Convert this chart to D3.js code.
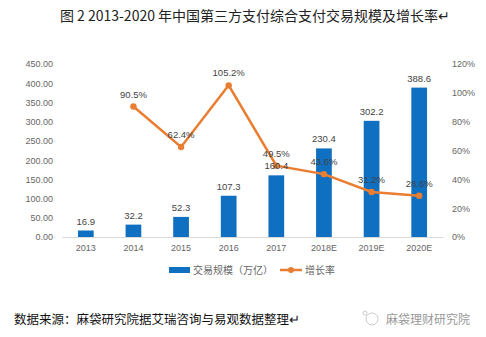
<!DOCTYPE html>
<html>
<head>
<meta charset="utf-8">
<script src="https://cdn.jsdelivr.net/npm/d3@7"></script>
<style>
  body { margin: 0; background: #fff; }
  svg { display: block; font-family: "Noto Sans CJK SC", "Liberation Sans", sans-serif; }
</style>
</head>
<body>
<svg id="chart"></svg>
<script>
const years = ["2013", "2014", "2015", "2016", "2017", "2018E", "2019E", "2020E"];
const volume = [16.9, 32.2, 52.3, 107.3, 160.4, 230.4, 302.2, 388.6];
const growth = [null, 90.5, 62.4, 105.2, 49.5, 43.6, 31.2, 28.6];
const leftTicks = [0, 50, 100, 150, 200, 250, 300, 350, 400, 450];
const rightTicks = [0, 20, 40, 60, 80, 100, 120];

const width = 486, height = 337;
const margin = { top: 64, right: 43, bottom: 100, left: 62 };
const blue = "#0f6fc1", orange = "#e97d31", grey = "#666";

const svg = d3.select("#chart").attr("width", width).attr("height", height);

const x = d3.scaleBand()
  .domain(years)
  .range([margin.left, width - margin.right])
  .paddingInner(0.67)
  .paddingOuter(0.335);

const y = d3.scaleLinear().domain([0, 450]).range([height - margin.bottom, margin.top]);
const y2 = d3.scaleLinear().domain([0, 120]).range([height - margin.bottom, margin.top]);

// title
svg.append("text")
  .attr("x", 255).attr("y", 21)
  .attr("text-anchor", "middle")
  .attr("font-size", 14)
  .attr("fill", "#222")
  .text("图 2 2013-2020 年中国第三方支付综合支付交易规模及增长率↵");

// left axis
const yAxis = d3.axisLeft(y).tickValues(leftTicks).tickFormat(d3.format(".2f")).tickSize(0).tickPadding(9);
svg.append("g")
  .attr("transform", `translate(${margin.left}, 0)`)
  .call(yAxis)
  .call(g => g.select(".domain").remove())
  .selectAll("text").attr("fill", grey).attr("font-size", 9).attr("font-family", "Liberation Sans, sans-serif");

// right axis
const y2Axis = d3.axisRight(y2).tickValues(rightTicks).tickFormat(d => d + "%").tickSize(0).tickPadding(9);
svg.append("g")
  .attr("transform", `translate(${width - margin.right}, 0)`)
  .call(y2Axis)
  .call(g => g.select(".domain").remove())
  .selectAll("text").attr("fill", grey).attr("font-size", 9).attr("font-family", "Liberation Sans, sans-serif");

// x axis
svg.append("g")
  .attr("transform", `translate(0, ${y(0)})`)
  .call(d3.axisBottom(x).tickSize(0).tickPadding(8))
  .call(g => g.select(".domain").attr("stroke", "#d9d9d9"))
  .selectAll("text").attr("fill", grey).attr("font-size", 9).attr("font-family", "Liberation Sans, sans-serif");

// bars
svg.selectAll(".bar")
  .data(years)
  .enter().append("rect")
  .attr("class", "bar")
  .attr("x", d => x(d))
  .attr("width", x.bandwidth())
  .attr("y", (d, i) => y(volume[i]))
  .attr("height", (d, i) => y(0) - y(volume[i]))
  .attr("fill", blue);

// line
const pts = years.map((d, i) => ({ year: d, v: growth[i] })).filter(d => d.v !== null);
const line = d3.line().x(d => x(d.year) + x.bandwidth() / 2).y(d => y2(d.v));
svg.append("path")
  .datum(pts)
  .attr("d", line)
  .attr("fill", "none")
  .attr("stroke", orange)
  .attr("stroke-width", 2.5);
svg.selectAll(".pt")
  .data(pts)
  .enter().append("circle")
  .attr("cx", d => x(d.year) + x.bandwidth() / 2)
  .attr("cy", d => y2(d.v))
  .attr("r", 3.2)
  .attr("fill", orange);

// bar labels
svg.selectAll(".blab")
  .data(years)
  .enter().append("text")
  .attr("x", d => x(d) + x.bandwidth() / 2)
  .attr("y", (d, i) => y(volume[i]) - 6)
  .attr("text-anchor", "middle")
  .attr("font-size", 9.5)
  .attr("font-family", "Liberation Sans, sans-serif")
  .attr("fill", "#444")
  .text((d, i) => volume[i].toFixed(1));

// line labels
svg.selectAll(".llab")
  .data(pts)
  .enter().append("text")
  .attr("x", d => x(d.year) + x.bandwidth() / 2)
  .attr("y", d => y2(d.v) - 9)
  .attr("text-anchor", "middle")
  .attr("font-size", 9.5)
  .attr("font-family", "Liberation Sans, sans-serif")
  .attr("fill", "#444")
  .text(d => d.v.toFixed(1) + "%");

// legend
const lg = svg.append("g").attr("transform", "translate(169, 270)");
lg.append("rect").attr("x", 0).attr("y", -3).attr("width", 21).attr("height", 6).attr("fill", blue);
lg.append("text").attr("x", 24).attr("y", 4).attr("font-size", 10).attr("fill", grey).text("交易规模（万亿）");
lg.append("line").attr("x1", 111).attr("x2", 133).attr("y1", 0).attr("y2", 0).attr("stroke", orange).attr("stroke-width", 2.5);
lg.append("circle").attr("cx", 122).attr("cy", 0).attr("r", 3).attr("fill", orange);
lg.append("text").attr("x", 136).attr("y", 4).attr("font-size", 10).attr("fill", grey).text("增长率");

// source
svg.append("text")
  .attr("x", 14).attr("y", 324)
  .attr("font-size", 12.5)
  .attr("fill", "#111")
  .text("数据来源：麻袋研究院据艾瑞咨询与易观数据整理↵");

// watermark
const wm = svg.append("g").attr("transform", "translate(362, 319)");
wm.append("circle").attr("cx", 10).attr("cy", 0).attr("r", 6).attr("fill", "none").attr("stroke", "#bbb").attr("stroke-width", 0.8);
wm.append("circle").attr("cx", 3).attr("cy", -6).attr("r", 2).attr("fill", "none").attr("stroke", "#bbb").attr("stroke-width", 0.8);
wm.append("text").attr("x", 24).attr("y", 4.5).attr("font-size", 12).attr("fill", "#999").text("麻袋理财研究院");
</script>
</body>
</html>
